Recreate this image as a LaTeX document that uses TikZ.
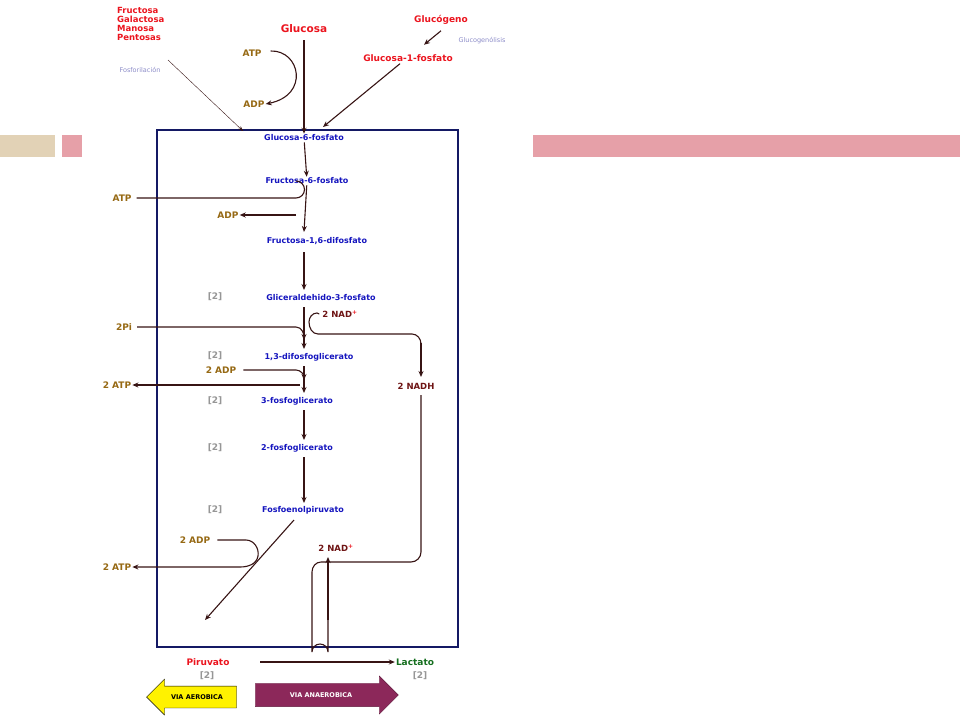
\documentclass[tikz,border=0pt]{standalone}
\usepackage{fontspec}
\setmainfont{DejaVu Sans}
\usetikzlibrary{arrows.meta, shapes.arrows}
\definecolor{metred}{RGB}{235, 20, 30}
\definecolor{metblue}{RGB}{20, 20, 190}
\definecolor{cofbrown}{RGB}{150, 105, 20}
\definecolor{nadred}{RGB}{110, 20, 20}
\definecolor{arrowdark}{RGB}{55, 20, 20}
\definecolor{boxnavy}{RGB}{20, 25, 100}
\definecolor{numgray}{RGB}{150, 150, 150}
\definecolor{notelilac}{RGB}{140, 140, 200}
\definecolor{bartan}{RGB}{226, 210, 182}
\definecolor{barpink}{RGB}{230, 160, 168}
\definecolor{lactgreen}{RGB}{20, 110, 30}
\definecolor{anaerpurple}{RGB}{140, 40, 90}
\begin{document}
\begin{tikzpicture}[
    x=1pt, y=-1pt,
    metab/.style={font=\fontsize{8}{9}\selectfont\bfseries, text=metblue, inner sep=1pt},
    source/.style={font=\fontsize{9}{10.5}\selectfont\bfseries, text=metred, inner sep=1pt},
    cof/.style={font=\fontsize{9}{10}\selectfont\bfseries, text=cofbrown, inner sep=1pt},
    nad/.style={font=\fontsize{8.5}{10}\selectfont\bfseries, text=nadred, inner sep=1pt},
    num/.style={font=\fontsize{9}{10}\selectfont\bfseries, text=numgray, inner sep=1pt},
    note/.style={font=\fontsize{6.5}{8}\selectfont, text=notelilac, inner sep=1pt},
    arrow/.style={-{Stealth[length=6pt, width=5pt]}, line width=1.1pt, color=arrowdark},
    link/.style={line width=1.1pt, color=arrowdark},
]
\useasboundingbox (0,0) rectangle (960,720);

% Decorative bars
\fill[bartan] (0,135) rectangle (55,157);
\fill[barpink] (62,135) rectangle (82,157);
\fill[barpink] (533,135) rectangle (960,157);

% Frame
\draw[boxnavy, line width=1.6pt] (157,130) rectangle (458,647);

% Sources
\node[source, font=\fontsize{10.5}{12}\selectfont\bfseries] (glc) at (304,29) {Glucosa};
\node[source, align=left, anchor=north west, font=\fontsize{8.5}{9}\selectfont\bfseries] (sugars) at (116,6) {Fructosa\\Galactosa\\Manosa\\Pentosas};
\node[note] (phos) at (140,70) {Fosforilación};
\node[source] (glyc) at (441,20) {Glucógeno};
\node[note] (glyclys) at (482,41) {Glucogenólisis};
\node[source] (g1p) at (408,58) {Glucosa-1-fosfato};
\node[cof] (atp1) at (252,53) {ATP};
\node[cof] (adp1) at (254,104) {ADP};

% Pathway
\node[metab] (g6p) at (304,138) {Glucosa-6-fosfato};
\node[metab] (f6p) at (307,181) {Fructosa-6-fosfato};
\node[metab] (f16) at (317,241) {Fructosa-1,6-difosfato};
\node[metab] (gap) at (321,298) {Gliceraldehido-3-fosfato};
\node[metab] (bpg) at (309,357) {1,3-difosfoglicerato};
\node[metab] (pg3) at (297,401) {3-fosfoglicerato};
\node[metab] (pg2) at (297,448) {2-fosfoglicerato};
\node[metab] (pep) at (303,510) {Fosfoenolpiruvato};

% Stoichiometry
\foreach \y/\n in {297/a, 356/b, 401/c, 448/d, 510/e}
    \node[num] (two\n) at (215,\y) {[2]};

% Cofactors
\node[cof] (atp2) at (122,198) {ATP};
\node[cof] (adp2) at (228,215) {ADP};
\node[cof] (pi) at (124,327) {2Pi};
\node[nad] (nad1) at (340,314) {2 NAD\textsuperscript{\textcolor{metred}{+}}};
\node[nad] (nadh) at (416,386) {2 NADH};
\node[cof] (adp3) at (221,370) {2 ADP};
\node[cof] (atp3) at (117,385) {2 ATP};
\node[cof] (adp4) at (195,540) {2 ADP};
\node[cof] (atp4) at (117,567) {2 ATP};
\node[nad] (nad2) at (336,548) {2 NAD\textsuperscript{\textcolor{metred}{+}}};

% Products
\node[source, font=\fontsize{9}{10}\selectfont\bfseries] (pyr) at (208,662) {Piruvato};
\node[num] (twof) at (207,676) {[2]};
\node[source, text=lactgreen, font=\fontsize{9}{10}\selectfont\bfseries] (lac) at (415,662) {Lactato};
\node[num] (twog) at (420,676) {[2]};

% Ways
\node[single arrow, shape border rotate=180, draw=black, fill=yellow, minimum height=90pt, minimum width=36pt, single arrow head extend=3pt, inner sep=2pt, font=\fontsize{6.5}{7}\selectfont\bfseries] (aer) at (197,697) {VIA AEROBICA};
\node[single arrow, draw=anaerpurple!70!black, fill=anaerpurple, text=white, minimum height=143pt, minimum width=38pt, single arrow head extend=3pt, inner sep=2pt, font=\fontsize{6.5}{7}\selectfont\bfseries] (anaer) at (321,695) {VIA ANAEROBICA};

% Entry
\draw[arrow] (304,40) -- (g6p.north);
\draw[arrow] (atp1.east) ++(8,-2) .. controls (300,50) and (310,95) .. (adp1.east);
\draw[-{Stealth[length=5pt]}, line width=0.4pt, color=arrowdark] (168,60) -- (243,131);
\draw[arrow] (glyc.south) ++(0,5) -- ++(-17,14);
\draw[arrow] (g1p.south) ++(-8,1) -- (323,127);

% Main chain
\draw[arrow] (g6p) -- (f6p);
\draw[arrow] (f6p) -- (304,232);
\draw[arrow] (304,252) -- (304,290);
\draw[arrow] (304,307) -- (304,349);
\draw[arrow] (304,366) -- (304,393);
\draw[arrow] (304,410) -- (304,440);
\draw[arrow] (304,457) -- (304,503);
\draw[arrow] (294,520) -- (205,620);

% Side reactions
\draw[link] (atp2.east) ++(4,0) -- (296,198) arc[start angle=90, end angle=-90, radius=8.5];
\draw[arrow] (296,215) -- (adp2.east);
\draw[arrow] (pi.east) ++(4,0) -- (296,327) to[out=0, in=90] (304,340);
\draw[link] (nad1.west) ++(-2,0) -- (317,313) to[out=180, in=90] (309,322) to[out=-90, in=180] (318,334) -- (412,334) to[out=0, in=90] (421,344);
\draw[arrow] (421,343) -- (421,377);
\draw[arrow] (adp3.east) ++(6,0) -- (296,370) to[out=0, in=90] (304,380);
\draw[arrow] (300,385) -- (atp3.east);
\draw[arrow] (adp4.east) ++(6,0) -- (246,540) to[out=0, in=80] (258,556) to[out=-100, in=0] (240,567) -- (atp4.east);
\draw[link] (421,395) -- (421,552) to[out=-90, in=0] (411,562) -- (321,562) to[out=180, in=90] (312,572) -- (312,652) arc[start angle=180, end angle=360, radius=8] -- (328,580);
\draw[arrow] (328,620) -- (328,557);
\draw[arrow] (260,662) -- (lac.west);
\end{tikzpicture}
\end{document}
